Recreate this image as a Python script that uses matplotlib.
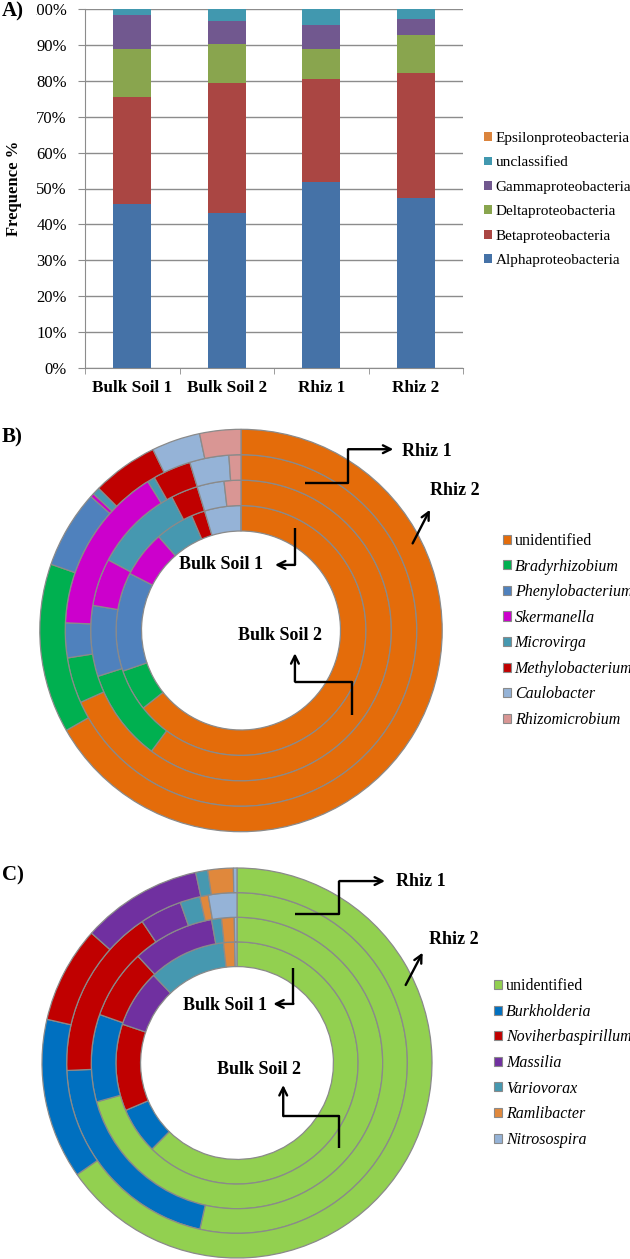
import matplotlib.pyplot as plt
import numpy as np
from matplotlib.patches import Patch, Rectangle

plt.rcParams['font.family'] = ['Liberation Serif', 'DejaVu Serif']

# ---- A) proteobacteria classes (% of reads)
samples = ['Bulk Soil 1', 'Bulk Soil 2', 'Rhiz 1', 'Rhiz 2']
classes = ['Alphaproteobacteria', 'Betaproteobacteria', 'Deltaproteobacteria',
           'Gammaproteobacteria', 'unclassified', 'Epsilonproteobacteria']
alpha = [45.6, 43.1, 51.9, 47.3]
beta = [29.9, 36.3, 28.5, 35.0]
delta = [13.4, 10.9, 8.5, 10.5]
gamma = [9.4, 6.4, 6.6, 4.4]
unclassified = [1.6, 3.2, 4.4, 2.7]
epsilon = [0.1, 0.1, 0.1, 0.1]
class_colors = ['#4572A7', '#AA4643', '#89A54E', '#71588F', '#4198AF', '#DB843D']

# ---- B) Alphaproteobacteria genera, rings inner -> outer
alpha_genera = ['unidentified', 'Bradyrhizobium', 'Phenylobacterium', 'Skermanella',
                'Microvirga', 'Methylobacterium', 'Caulobacter', 'Rhizomicrobium']
alpha_bulk1 = [64.3, 5.4, 12.8, 6.0, 5.0, 1.75, 4.7, 0.0]
alpha_bulk2 = [60.1, 9.9, 7.6, 5.1, 9.6, 2.9, 2.9, 1.8]
alpha_rhiz1 = [68.3, 4.2, 3.2, 15.4, 0.7, 3.5, 3.6, 1.1]
alpha_rhiz2 = [66.7, 13.6, 6.25, 0.3, 0.6, 5.3, 3.9, 3.3]
alpha_colors = ['#E46C0A', '#00B050', '#4F81BD', '#CC00CC',
                '#4698B0', '#C00000', '#95B3D7', '#D99694']

# ---- C) Betaproteobacteria genera, rings inner -> outer
beta_genera = ['unidentified', 'Burkholderia', 'Noviherbaspirillum', 'Massilia',
               'Variovorax', 'Ramlibacter', 'Nitrosospira']
beta_bulk1 = [62.4, 6.2, 11.6, 7.7, 10.3, 1.5, 0.3]
beta_bulk2 = [70.7, 9.7, 7.7, 9.1, 1.1, 1.4, 0.3]
beta_rhiz1 = [53.5, 20.8, 16.3, 4.0, 1.9, 0.8, 2.7]
beta_rhiz2 = [65.3, 13.3, 8.0, 10.0, 1.0, 2.1, 0.3]
beta_colors = ['#92D050', '#0070C0', '#C00000', '#7030A0',
               '#4698B0', '#E0883C', '#95B3D7']

W, H = 630, 1259
fig = plt.figure(figsize=(6.3, 12.59), dpi=100)


def box(left, top, right, bottom):
    return [left / W, 1 - bottom / H, (right - left) / W, (bottom - top) / H]


# ================= A) stacked bars
ax = fig.add_axes(box(85, 9, 463, 368))
x = np.arange(len(samples))
bottom = np.zeros(len(samples))
series = [alpha, beta, delta, gamma, unclassified, epsilon]
for vals, col in zip(series, class_colors):
    ax.bar(x, vals, 0.4, bottom=bottom, color=col, zorder=3)
    bottom += np.array(vals)

ax.set_xlim(-0.5, 3.5)
ax.set_ylim(0, 100)
ax.set_yticks(np.arange(0, 101, 10))
ax.set_yticklabels([f'{v}%' for v in range(0, 101, 10)], fontsize=12)
ax.yaxis.grid(True, color='#8c8c8c', lw=1)
ax.set_axisbelow(True)
for s in ['top', 'right']:
    ax.spines[s].set_visible(False)
for s in ['left', 'bottom']:
    ax.spines[s].set_color('#8c8c8c')
ax.tick_params(axis='y', length=5, color='#8c8c8c', pad=8)
ax.set_xticks(x)
ax.set_xticklabels(samples, fontsize=12.3, fontweight='bold')
ax.set_xticks(np.arange(-0.5, 4, 1), minor=True)
ax.tick_params(axis='x', which='major', length=0, pad=9)
ax.tick_params(axis='x', which='minor', length=4, color='#8c8c8c')
ax.set_ylabel('Frequence %', fontsize=12, fontweight='bold')
ax.yaxis.set_label_coords(-0.167, 0.5)

handles = [Patch(facecolor=c) for c in class_colors][::-1]
fig.legend(handles, classes[::-1], loc='center left',
           bbox_to_anchor=(484 / W, 1 - 199.5 / H), frameon=False,
           fontsize=11, handlelength=0.5, handleheight=0.5,
           handletextpad=0.25, labelspacing=0.75, borderpad=0, borderaxespad=0)


# ================= donuts
def donut(cx, cy, r, rings, colors, labels, pos):
    s = 1.1 * r
    ax = fig.add_axes(box(cx - s, cy - s, cx + s, cy + s))
    hole = 0.4945
    w = (1 - hole) / len(rings)
    for i, vals in enumerate(rings):
        ax.pie(vals, radius=hole + w * (i + 1), startangle=90, counterclock=False,
               colors=colors,
               wedgeprops=dict(width=w, edgecolor='#8a8a8a', linewidth=0.9))
    ax.set_xlim(-1.1, 1.1)
    ax.set_ylim(-1.1, 1.1)
    ax.axis('off')

    # arrows pointing to each ring
    for path in pos['arrows']:
        xs, ys = zip(*path)
        ax.plot(xs[:-1], ys[:-1], color='black', lw=1.7, solid_capstyle='butt')
        ax.annotate('', xy=path[-1], xytext=path[-2],
                    arrowprops=dict(arrowstyle='->', color='black', lw=1.7,
                                    mutation_scale=14, shrinkA=0, shrinkB=0))
    for (tx, ty, txt, ha) in pos['texts']:
        ax.text(tx, ty, txt, ha=ha, va='center', fontsize=13, fontweight='bold')

    handles = [Patch(facecolor=c, edgecolor='#8a8a8a', lw=0.8) for c in colors]
    leg = fig.legend(handles, labels, loc='center left',
                     bbox_to_anchor=(pos['legend_x'] / W, 1 - cy / H), frameon=False,
                     fontsize=11.5, handlelength=0.5, handleheight=0.5,
                     handletextpad=0.25, labelspacing=0.6, borderpad=0, borderaxespad=0)
    for t in leg.get_texts()[1:]:
        t.set_style('italic')
    return ax


pos_b = {
    'arrows': [
        [(0.318, 0.732), (0.533, 0.732), (0.533, 0.901), (0.757, 0.901)],
        [(0.853, 0.433), (0.939, 0.600)],
        [(0.268, 0.508), (0.268, 0.326), (0.169, 0.326)],
        [(0.550, -0.420), (0.550, -0.254), (0.268, -0.254), (0.268, -0.113)],
    ],
    'texts': [(0.799, 0.892, 'Rhiz 1', 'left'), (0.939, 0.698, 'Rhiz 2', 'left'),
              (0.109, 0.326, 'Bulk Soil 1', 'right'), (0.194, -0.027, 'Bulk Soil 2', 'center')],
    'legend_x': 502.7,
}
donut(241, 630.5, 201.2, [alpha_bulk1, alpha_bulk2, alpha_rhiz1, alpha_rhiz2],
      alpha_colors, alpha_genera, pos_b)

pos_c = {
    'arrows': [
        [(0.297, 0.763), (0.525, 0.763), (0.525, 0.933), (0.759, 0.933)],
        [(0.865, 0.400), (0.952, 0.566)],
        [(0.289, 0.486), (0.289, 0.303), (0.186, 0.303)],
        [(0.525, -0.437), (0.525, -0.272), (0.237, -0.272), (0.237, -0.113)],
    ],
    'texts': [(0.814, 0.933, 'Rhiz 1', 'left'), (0.985, 0.631, 'Rhiz 2', 'left'),
              (0.152, 0.297, 'Bulk Soil 1', 'right'), (0.113, -0.031, 'Bulk Soil 2', 'center')],
    'legend_x': 494,
}
donut(237, 1063, 195, [beta_bulk1, beta_bulk2, beta_rhiz1, beta_rhiz2],
      beta_colors, beta_genera, pos_c)

# panel letters
fig.patches.append(Rectangle((0, 1 - 21 / H), 36 / W, 21 / H, transform=fig.transFigure,
                             facecolor='white', edgecolor='none', zorder=5))
fig.text(2 / W, 1 - 11 / H, 'A)', fontsize=15, fontweight='bold', va='center', zorder=6)
fig.text(2 / W, 1 - 437 / H, 'B)', fontsize=15, fontweight='bold', va='center')
fig.text(2 / W, 1 - 875 / H, 'C)', fontsize=15, fontweight='bold', va='center')

fig.savefig('out.png', dpi=100, facecolor='white')
